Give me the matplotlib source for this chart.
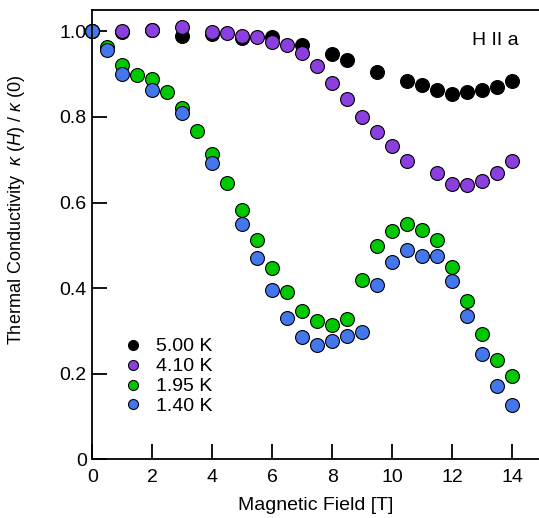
import matplotlib
matplotlib.use("Agg")
import matplotlib.pyplot as plt

plt.rcParams['font.family'] = ['Liberation Sans', 'DejaVu Sans']
plt.rcParams['mathtext.fontset'] = 'custom'
plt.rcParams['mathtext.rm'] = 'Liberation Sans'
plt.rcParams['mathtext.it'] = 'Liberation Sans:italic'

# field values (T) and normalised conductivity for each temperature
field_500 = [0, 1, 2, 3, 4, 5, 6, 7, 8, 8.5, 9.5, 10.5, 11, 11.5, 12, 12.5, 13, 13.5, 14]
kappa_500 = [1.0, 0.998, 1.003, 0.990, 0.994, 0.985, 0.988, 0.969, 0.947, 0.932,
             0.905, 0.885, 0.875, 0.862, 0.854, 0.858, 0.862, 0.870, 0.885]

field_410 = [0, 1, 2, 3, 4, 4.5, 5, 5.5, 6, 6.5, 7, 7.5, 8, 8.5, 9, 9.5, 10, 10.5,
             11.5, 12, 12.5, 13, 13.5, 14]
kappa_410 = [1.0, 1.002, 1.003, 1.010, 0.999, 0.996, 0.990, 0.988, 0.975, 0.969,
             0.950, 0.920, 0.879, 0.841, 0.801, 0.765, 0.733, 0.698,
             0.670, 0.644, 0.640, 0.650, 0.670, 0.696]

field_195 = [0, 0.5, 1, 1.5, 2, 2.5, 3, 3.5, 4, 4.5, 5, 5.5, 6, 6.5, 7, 7.5, 8, 8.5,
             9, 9.5, 10, 10.5, 11, 11.5, 12, 12.5, 13, 13.5, 14]
kappa_195 = [1.0, 0.963, 0.922, 0.899, 0.888, 0.859, 0.821, 0.768, 0.714, 0.646,
             0.582, 0.513, 0.448, 0.391, 0.347, 0.323, 0.315, 0.327,
             0.418, 0.498, 0.533, 0.551, 0.535, 0.513, 0.449, 0.370, 0.292, 0.233, 0.195]

field_140 = [0, 0.5, 1, 2, 3, 4, 5, 5.5, 6, 6.5, 7, 7.5, 8, 8.5, 9, 9.5, 10, 10.5,
             11, 11.5, 12, 12.5, 13, 13.5, 14]
kappa_140 = [1.0, 0.957, 0.901, 0.863, 0.809, 0.692, 0.549, 0.470, 0.395, 0.331,
             0.286, 0.268, 0.276, 0.288, 0.298, 0.408, 0.461, 0.488,
             0.474, 0.474, 0.416, 0.334, 0.247, 0.172, 0.127]

series = [
    ("5.00 K", field_500, kappa_500, "#000000"),
    ("4.10 K", field_410, kappa_410, "#8b3fdf"),
    ("1.95 K", field_195, kappa_195, "#00c800"),
    ("1.40 K", field_140, kappa_140, "#4477ee"),
]

fig = plt.figure(figsize=(5.39, 5.18), dpi=100)
ax = fig.add_axes([0.1713, 0.1133, 0.8287, 0.8674])

for label, x, y, c in series:
    ax.plot(x, y, linestyle='none', marker='o', markersize=10,
            markerfacecolor=c, markeredgecolor='black', markeredgewidth=0.8,
            label=label, clip_on=False)

ax.set_xlim(0, 14.9)
ax.set_ylim(0, 1.05)
ax.set_xticks(range(0, 15, 2))
ax.set_yticks([0, 0.2, 0.4, 0.6, 0.8, 1.0])
ax.set_yticklabels(["0", "0.2", "0.4", "0.6", "0.8", "1.0"])

ax.spines['right'].set_visible(False)
for s in ['left', 'bottom', 'top']:
    ax.spines[s].set_linewidth(1.3)
ax.tick_params(direction='in', length=10.8, width=1.3, labelsize=14)
ax.tick_params(axis='x', pad=7)
ax.tick_params(axis='y', pad=4)

ax.set_xlabel("Magnetic Field [T]", fontsize=14, labelpad=8)
ax.set_ylabel(r"Thermal Conductivity  $\kappa$ ($H$) / $\kappa$ (0)", fontsize=13)
ax.yaxis.set_label_coords(-0.146, 0.555)

ax.text(12.68, 0.978, "H II a", fontsize=14, ha='left', va='center')

leg = ax.legend(loc='lower left', bbox_to_anchor=(0.07, 0.098), frameon=False,
                fontsize=14, markerscale=0.72, handlelength=1.0, handletextpad=0.65,
                labelspacing=0.12, borderaxespad=0, borderpad=0)

fig.savefig("out.png", dpi=100)
